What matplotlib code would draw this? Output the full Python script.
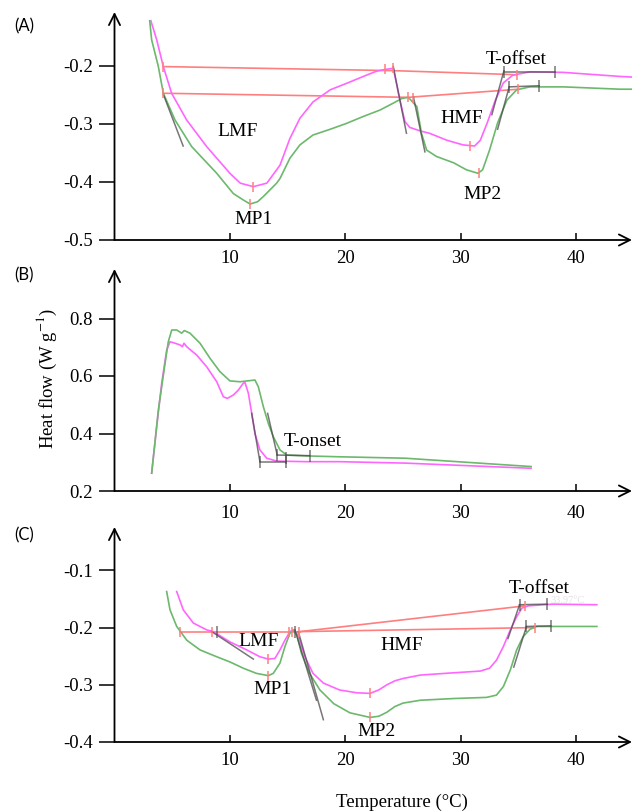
import matplotlib
matplotlib.use("Agg")
import matplotlib.pyplot as plt

plt.rcParams['font.family'] = ['Liberation Serif', 'DejaVu Serif']
plt.rcParams['mathtext.fontset'] = 'stix'
plt.rcParams['axes.unicode_minus'] = False

# ---- panel A (LMF / HMF melting) ----
a_mag_x = [3.15, 3.66, 4.23, 4.95, 6.25, 7.99, 10.0, 10.9, 12.03, 13.2, 14.05, 14.34, 15.2, 16.07,
           17.2, 18.7, 20.1, 21.56, 22.7, 23.44, 24.16, 24.7, 25.17, 25.6, 26.5, 27.3, 28.8, 30.2,
           31.2, 31.7, 32.3, 33.0, 33.7, 34.5, 36.0, 38.9, 43.8, 44.8]
a_mag_y = [-0.122, -0.155, -0.201, -0.247, -0.293, -0.339, -0.385, -0.402, -0.408, -0.402, -0.379,
           -0.371, -0.325, -0.29, -0.262, -0.241, -0.23, -0.218, -0.209, -0.206, -0.204, -0.256,
           -0.296, -0.306, -0.312, -0.316, -0.328, -0.336, -0.338, -0.328, -0.298, -0.259, -0.229,
           -0.216, -0.21, -0.211, -0.218, -0.219]
a_grn_x = [3.05, 3.22, 3.8, 4.23, 5.24, 6.69, 8.86, 10.3, 11.16, 11.75, 12.4, 12.9, 14.05, 14.34,
           15.2, 16.07, 17.2, 18.7, 20.1, 21.56, 23.0, 24.16, 24.9, 25.46, 26.2, 26.6, 27.05, 27.9,
           29.4, 30.5, 31.5, 31.9, 32.5, 33.2, 34.0, 34.85, 36.0, 38.9, 43.8, 44.8]
a_grn_y = [-0.122, -0.155, -0.201, -0.247, -0.293, -0.339, -0.385, -0.42, -0.431, -0.438, -0.434,
           -0.425, -0.402, -0.394, -0.359, -0.336, -0.319, -0.309, -0.299, -0.287, -0.276, -0.264,
           -0.256, -0.254, -0.27, -0.316, -0.345, -0.356, -0.367, -0.379, -0.385, -0.379, -0.345,
           -0.298, -0.259, -0.241, -0.236, -0.236, -0.24, -0.24]
a_base_hi_x = [4.23, 24.16, 34.85]
a_base_hi_y = [-0.201, -0.208, -0.215]
a_base_lo_x = [4.23, 25.46, 35.0]
a_base_lo_y = [-0.247, -0.254, -0.24]
a_tan = [([4.23, 5.95], [-0.249, -0.338]),
         ([24.16, 25.3], [-0.201, -0.316]),
         ([25.9, 26.9], [-0.253, -0.348]),
         ([32.7, 33.75], [-0.284, -0.208]),
         ([33.75, 38.2], [-0.211, -0.211]),
         ([33.2, 34.2], [-0.309, -0.236]),
         ([34.2, 36.8], [-0.236, -0.234])]
a_red_ticks = [(4.23, -0.201), (23.44, -0.206), (24.16, -0.204), (34.85, -0.215),
               (4.23, -0.247), (25.4, -0.254), (25.9, -0.255), (35.0, -0.24),
               (12.03, -0.408), (11.75, -0.438), (30.8, -0.338), (31.6, -0.385)]
a_grey_ticks = [(33.75, -0.211), (38.2, -0.211), (34.2, -0.236), (36.8, -0.234)]
a_labels = [("LMF", 10.64, -0.313), ("MP1", 12.03, -0.465), ("HMF", 30.08, -0.29),
            ("MP2", 31.9, -0.421), ("T-offset", 34.8, -0.188)]

# ---- panel B (crystallisation) ----
b_mag_x = [3.22, 3.66, 4.09, 4.52, 4.81, 5.1, 5.68, 5.88, 6.02, 6.25, 7.12, 7.99, 8.86, 9.43, 9.77,
           10.3, 10.73, 11.16, 11.31, 11.6, 11.89, 12.17, 12.6, 13.19, 14.05, 16.65, 19.5, 25.2, 36.1]
b_mag_y = [0.262, 0.424, 0.575, 0.69, 0.719, 0.716, 0.708, 0.702, 0.714, 0.702, 0.673, 0.632, 0.58,
           0.528, 0.522, 0.534, 0.551, 0.575, 0.577, 0.54, 0.47, 0.4, 0.343, 0.314, 0.304, 0.302,
           0.302, 0.297, 0.279]
b_grn_x = [3.22, 3.8, 4.38, 4.66, 4.96, 5.39, 5.82, 6.05, 6.54, 7.41, 8.27, 9.14, 10.0, 10.87, 11.74,
           12.17, 12.46, 12.9, 13.33, 13.76, 14.34, 14.92, 16.65, 19.5, 25.2, 36.1]
b_grn_y = [0.262, 0.482, 0.644, 0.719, 0.76, 0.76, 0.749, 0.758, 0.749, 0.714, 0.662, 0.615, 0.583,
           0.58, 0.584, 0.586, 0.563, 0.493, 0.435, 0.389, 0.343, 0.325, 0.322, 0.319, 0.314, 0.285]
b_tan = [([11.89, 12.6], [0.47, 0.302]),
         ([12.6, 14.85], [0.302, 0.302]),
         ([13.27, 14.1], [0.47, 0.325]),
         ([14.1, 16.9], [0.325, 0.323])]
b_grey_ticks = [(12.6, 0.302), (14.85, 0.302), (14.1, 0.325), (14.85, 0.314), (16.9, 0.323)]
b_labels = [("T-onset", 17.2, 0.372)]

# ---- panel C ----
c_mag_x = [5.39, 5.96, 6.83, 7.99, 8.56, 10.0, 11.46, 12.6, 13.33, 13.9, 14.34, 14.77, 15.2, 15.5,
           15.9, 16.5, 17.2, 18.1, 19.5, 21.0, 22.14, 22.9, 23.6, 24.3, 25.0, 26.5, 29.4, 31.7, 32.5,
           33.1, 33.7, 34.3, 34.85, 35.3, 35.86, 38.0, 41.8]
c_mag_y = [-0.137, -0.169, -0.192, -0.204, -0.207, -0.225, -0.239, -0.251, -0.255, -0.254, -0.239,
           -0.222, -0.207, -0.204, -0.213, -0.251, -0.28, -0.297, -0.309, -0.314, -0.315, -0.309,
           -0.3, -0.293, -0.289, -0.283, -0.279, -0.276, -0.271, -0.257, -0.233, -0.204, -0.181,
           -0.166, -0.162, -0.159, -0.16]
c_grn_x = [4.52, 4.81, 5.39, 6.26, 7.41, 8.86, 10.0, 11.16, 12.3, 13.33, 13.76, 14.34, 14.77, 15.2,
           15.5, 15.8, 16.2, 16.9, 17.8, 19.0, 20.4, 22.14, 22.9, 23.6, 24.3, 25.0, 26.5, 29.4,
           32.25, 33.1, 33.7, 34.3, 34.85, 35.4, 36.0, 36.6, 41.8]
c_grn_y = [-0.137, -0.169, -0.198, -0.222, -0.239, -0.251, -0.26, -0.271, -0.28, -0.284, -0.28,
           -0.262, -0.233, -0.21, -0.205, -0.213, -0.245, -0.28, -0.309, -0.333, -0.349, -0.357,
           -0.355, -0.348, -0.338, -0.332, -0.327, -0.324, -0.322, -0.318, -0.303, -0.274, -0.239,
           -0.216, -0.203, -0.198, -0.198]
c_base_x = [5.68, 16.07]
c_base_y = [-0.207, -0.207]
c_base_hi_x = [16.07, 35.57]
c_base_hi_y = [-0.207, -0.162]
c_base_lo_x = [16.07, 36.4]
c_base_lo_y = [-0.207, -0.2]
c_tan = [([8.42, 12.03], [-0.207, -0.255]),
         ([15.64, 17.5], [-0.204, -0.327]),
         ([15.93, 18.1], [-0.207, -0.361]),
         ([34.1, 35.1], [-0.219, -0.16]),
         ([35.1, 37.5], [-0.16, -0.159]),
         ([34.6, 35.7], [-0.269, -0.198]),
         ([35.7, 37.8], [-0.198, -0.197])]
c_red_ticks = [(5.68, -0.207), (8.47, -0.207), (15.1, -0.207), (15.4, -0.207), (16.0, -0.207),
               (35.57, -0.162), (36.4, -0.2), (13.33, -0.255), (13.33, -0.284),
               (22.14, -0.315), (22.14, -0.357)]
c_grey_ticks = [(8.85, -0.207), (15.6, -0.207), (35.1, -0.16), (37.5, -0.159),
                (35.7, -0.198), (37.8, -0.197)]
c_labels = [("LMF", 12.46, -0.225), ("MP1", 13.7, -0.309), ("HMF", 24.9, -0.232),
            ("MP2", 22.7, -0.382), ("T-offset", 36.8, -0.131)]

x_ticks = [10, 20, 30, 40]

MAG = '#ff66ff'
GRN = '#6cb86c'
RED = '#ff7f7f'
GRY = '#4a4a4a'

W, H = 634, 811
fig = plt.figure(figsize=(W / 100, H / 100), dpi=100)


def make_axes(top_px, bottom_px, ymin, yscale):
    left, right = 114.5, 632
    ax = fig.add_axes([left / W, (H - bottom_px) / H, (right - left) / W, (bottom_px - top_px) / H])
    ax.set_xlim(0, (right - left) / 11.54)
    ax.set_ylim(ymin, ymin + (bottom_px - top_px) / yscale)
    for s in ax.spines.values():
        s.set_visible(False)
    arr = dict(arrowstyle='->', lw=1.3, color='black', shrinkA=0, shrinkB=0, mutation_scale=20)
    ax.annotate('', xy=(1, 0), xytext=(0, 0), xycoords='axes fraction', arrowprops=arr)
    ax.annotate('', xy=(0, 1), xytext=(0, 0), xycoords='axes fraction', arrowprops=arr)
    return ax


def style_ticks(ax, yticks, xpad):
    ax.set_xticks(x_ticks)
    ax.set_yticks(yticks)
    ax.set_yticklabels([f"{v:.1f}" for v in yticks])
    ax.tick_params(axis='x', direction='in', length=5, width=1.1, pad=xpad, labelsize=13.5)
    ax.tick_params(axis='y', direction='out', length=10.5, width=1.1, pad=5, labelsize=13.5)


def draw_common(ax, tans, red_ticks, grey_ticks, labels):
    for tx, ty in tans:
        ax.plot(tx, ty, color=GRY, lw=1.1, alpha=0.75)
    for x, y in red_ticks:
        ax.plot([x], [y], marker='|', ms=7, mew=1.1, color=RED)
    for x, y in grey_ticks:
        ax.plot([x], [y], marker='|', ms=8, mew=1.1, color=GRY, alpha=0.75)
    for t, x, y in labels:
        ax.text(x, y, t, fontsize=14, ha='center', va='center')


# A
axA = make_axes(12, 240, -0.5, 580)
axA.plot(a_base_hi_x, a_base_hi_y, color=RED, lw=1.2)
axA.plot(a_base_lo_x, a_base_lo_y, color=RED, lw=1.2)
axA.plot(a_mag_x, a_mag_y, color=MAG, lw=1.2)
axA.plot(a_grn_x, a_grn_y, color=GRN, lw=1.2)
draw_common(axA, a_tan, a_red_ticks, a_grey_ticks, a_labels)
style_ticks(axA, [-0.5, -0.4, -0.3, -0.2], 7)

# B
axB = make_axes(269, 491, 0.2, 287.5)
axB.plot(b_mag_x, b_mag_y, color=MAG, lw=1.2)
axB.plot(b_grn_x, b_grn_y, color=GRN, lw=1.2)
draw_common(axB, b_tan, [], b_grey_ticks, b_labels)
style_ticks(axB, [0.2, 0.4, 0.6, 0.8], 10)

# C
axC = make_axes(527, 742, -0.4, 572)
axC.plot(c_base_x, c_base_y, color=RED, lw=1.2)
axC.plot(c_base_hi_x, c_base_hi_y, color=RED, lw=1.2)
axC.plot(c_base_lo_x, c_base_lo_y, color=RED, lw=1.2)
axC.plot(c_mag_x, c_mag_y, color=MAG, lw=1.2)
axC.plot(c_grn_x, c_grn_y, color=GRN, lw=1.2)
draw_common(axC, c_tan, c_red_ticks, c_grey_ticks, c_labels)
# faint leftover value label under T-offset
axC.text(39.3, -0.152, "33.97°C", fontsize=7.5, color='#e2e2e2', ha='center', va='center')
style_ticks(axC, [-0.4, -0.3, -0.2, -0.1], 7)

# panel letters and axis titles
for lab, ypx in [("(A)", 26), ("(B)", 275), ("(C)", 535)]:
    fig.text(24 / W, 1 - ypx / H, lab, fontsize=12, family=['Lato', 'DejaVu Sans'],
             ha='center', va='center')
fig.text(47 / W, 1 - 378 / H, r"Heat flow (W g$^{-1}$)", rotation=90, fontsize=13.5,
         ha='center', va='center')
fig.text(402 / W, 1 - 802 / H, "Temperature (°C)", fontsize=13.5, ha='center', va='center')

fig.savefig("out.png", dpi=100)
